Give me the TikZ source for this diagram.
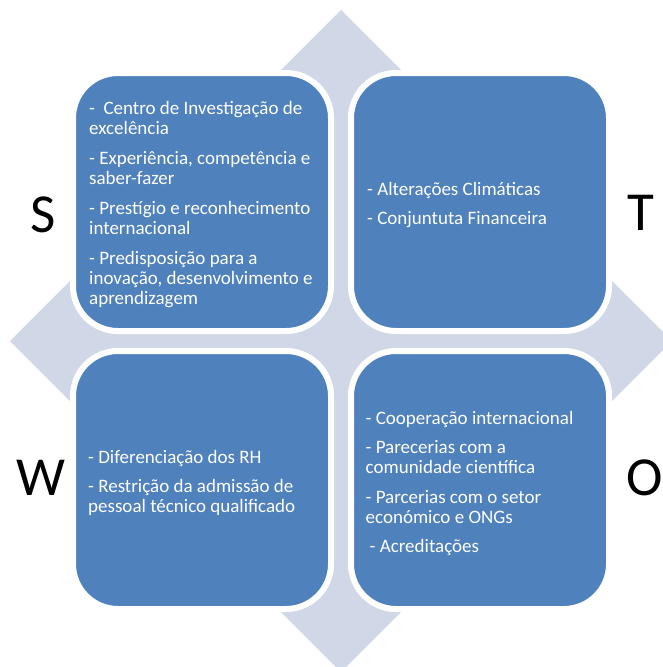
\documentclass[tikz,border=0pt]{standalone}
\usepackage{fontspec}
\setmainfont{Carlito}
\definecolor{boxblue}{HTML}{4F81BD}
\definecolor{diamondgrey}{HTML}{D0D8E8}

\begin{document}
\begin{tikzpicture}[x=1pt,y=-1pt,
  quad/.style={rectangle, rounded corners=45pt, minimum width=258pt,
    minimum height=258pt, fill=boxblue, draw=white, line width=6pt, inner sep=0pt},
  itemtext/.style={text=white, align=left, inner sep=0pt,
    font=\fontsize{19}{20}\selectfont},
  letter/.style={font=\fontsize{55}{60}\selectfont, text=black, inner sep=0pt}]
\useasboundingbox (0,0) rectangle (662,667);
\fill[white] (0,0) rectangle (662,667);

% background diamond, partly running off the page
\fill[diamondgrey] (341,10) -- (672,341) -- (341,672) -- (10,341) -- cycle;

% the four quadrants
\node[quad] (S) at (202,202) {};
\node[quad] (T) at (480,202) {};
\node[quad] (W) at (202,480) {};
\node[quad] (O) at (480,480) {};

% quadrant contents
\node[itemtext, anchor=west] (Stext) at ([xshift=19pt,yshift=-3pt]S.west)
  {-\ \ Centro de Investigação de\\excelência\\[10pt]
   - Experiência, competência e\\saber-fazer\\[10pt]
   - Prestígio e reconhecimento\\internacional\\[10pt]
   - Predisposição para a\\inovação, desenvolvimento e\\aprendizagem};
\node[itemtext, anchor=west] (Ttext) at ([xshift=19pt,yshift=-3pt]T.west)
  {- Alterações Climáticas\\[9pt]
   - Conjuntuta Financeira};
\node[itemtext, anchor=west] (Wtext) at ([xshift=18pt,yshift=-3pt]W.west)
  {- Diferenciação dos RH\\[9pt]
   - Restrição da admissão de\\pessoal técnico qualificado};
\node[itemtext, anchor=west] (Otext) at ([xshift=17.5pt,yshift=-3pt]O.west)
  {- Cooperação internacional\\[9pt]
   - Parecerias com a\\comunidade científica\\[10pt]
   - Parcerias com o setor\\económico e ONGs\\[9pt]
   \hspace{4pt}- Acreditações};

% side letters
\node[letter] (Sl) at (43,214.5) {S};
\node[letter] (Tl) at (641,212.5) {T};
\node[letter] (Wl) at (41,477.5) {W};
\node[letter] (Ol) at (645,477.5) {O};
\end{tikzpicture}
\end{document}
